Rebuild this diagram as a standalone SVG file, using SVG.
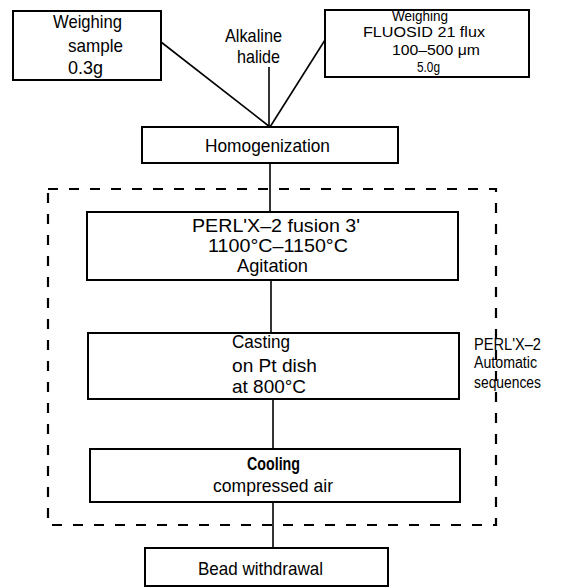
<svg xmlns="http://www.w3.org/2000/svg" width="572" height="588" viewBox="0 0 572 588">
<style>
.box{fill:#fff;stroke:#000;stroke-width:2}
.ln{fill:none;stroke:#000;stroke-width:1.6}
.dash{fill:none;stroke:#000;stroke-width:2.2;stroke-dasharray:10 11}
text{font-family:"Liberation Sans",Arial,sans-serif;fill:#000}
.t19{font-size:19px}
.t18{font-size:18.5px}
.t16{font-size:16px}
.t14{font-size:14px}
.m{text-anchor:middle}
</style>
<rect width="572" height="588" fill="#fff"/>
<g id="connectors">
<path class="ln" d="M161,42 L270,127"/>
<path class="ln" d="M325,40 L270,127"/>
<path class="ln" d="M269,67 L269,127"/>
<path class="ln" d="M270,163 L270,212"/>
<path class="ln" d="M271,280 L271,333"/>
<path class="ln" d="M273,399 L273,449"/>
<path class="ln" d="M273,502 L273,548"/>
</g>
<g id="automatic-sequences">
<rect class="dash" x="48" y="189" width="448" height="336"/>
<text class="t16" x="474" y="350" textLength="67" lengthAdjust="spacingAndGlyphs">PERL'X–2</text>
<text class="t16" x="474" y="368" textLength="63" lengthAdjust="spacingAndGlyphs">Automatic</text>
<text class="t16" x="474" y="388" textLength="67" lengthAdjust="spacingAndGlyphs">sequences</text>
</g>
<g id="weighing-sample">
<rect class="box" x="13" y="11" width="148" height="69"/>
<text class="t19" x="53" y="28" textLength="69" lengthAdjust="spacingAndGlyphs">Weighing</text>
<text class="t19" x="68" y="52" textLength="55" lengthAdjust="spacingAndGlyphs">sample</text>
<text class="t19" x="68" y="74" textLength="35" lengthAdjust="spacingAndGlyphs">0.3g</text>
</g>
<g id="alkaline-halide">
<text class="t18" x="225" y="42" textLength="57" lengthAdjust="spacingAndGlyphs">Alkaline</text>
<text class="t18" x="237" y="63" textLength="43" lengthAdjust="spacingAndGlyphs">halide</text>
</g>
<g id="weighing-flux">
<rect class="box" x="325" y="10" width="204" height="67"/>
<text class="t14" x="392" y="21" textLength="56" lengthAdjust="spacingAndGlyphs">Weighing</text>
<text class="t14" x="363" y="37" textLength="122" lengthAdjust="spacingAndGlyphs">FLUOSID  21  flux</text>
<text class="t14" x="392" y="55" textLength="88" lengthAdjust="spacingAndGlyphs">100–500 μm</text>
<text class="t14" x="417" y="72" textLength="23" lengthAdjust="spacingAndGlyphs">5.0g</text>
</g>
<g id="homogenization">
<rect class="box" x="142" y="127" width="256" height="36"/>
<text class="t19" x="205" y="152" textLength="125" lengthAdjust="spacingAndGlyphs">Homogenization</text>
</g>
<g id="fusion">
<rect class="box" x="87" y="212" width="371" height="68"/>
<text class="t18" x="192" y="232" textLength="168" lengthAdjust="spacingAndGlyphs">PERL'X–2  fusion  3'</text>
<text class="t18" x="208" y="252" textLength="140" lengthAdjust="spacingAndGlyphs">1100°C–1150°C</text>
<text class="t18" x="237" y="272" textLength="71" lengthAdjust="spacingAndGlyphs">Agitation</text>
</g>
<g id="casting">
<rect class="box" x="88" y="333" width="371" height="66"/>
<text class="t18" x="232" y="348" textLength="58" lengthAdjust="spacingAndGlyphs">Casting</text>
<text class="t18" x="232" y="372" textLength="85" lengthAdjust="spacingAndGlyphs">on Pt  dish</text>
<text class="t18" x="232" y="393" textLength="74" lengthAdjust="spacingAndGlyphs">at  800°C</text>
</g>
<g id="cooling">
<rect class="box" x="90" y="449" width="370" height="53"/>
<text class="t18" x="247" y="470" textLength="53" lengthAdjust="spacingAndGlyphs" style="font-weight:600">Cooling</text>
<text class="t18" x="213" y="492" textLength="120" lengthAdjust="spacingAndGlyphs">compressed  air</text>
</g>
<g id="bead-withdrawal">
<rect class="box" x="145" y="548" width="243" height="38"/>
<text class="t18" x="198" y="575" textLength="125" lengthAdjust="spacingAndGlyphs">Bead  withdrawal</text>
</g>
</svg>
